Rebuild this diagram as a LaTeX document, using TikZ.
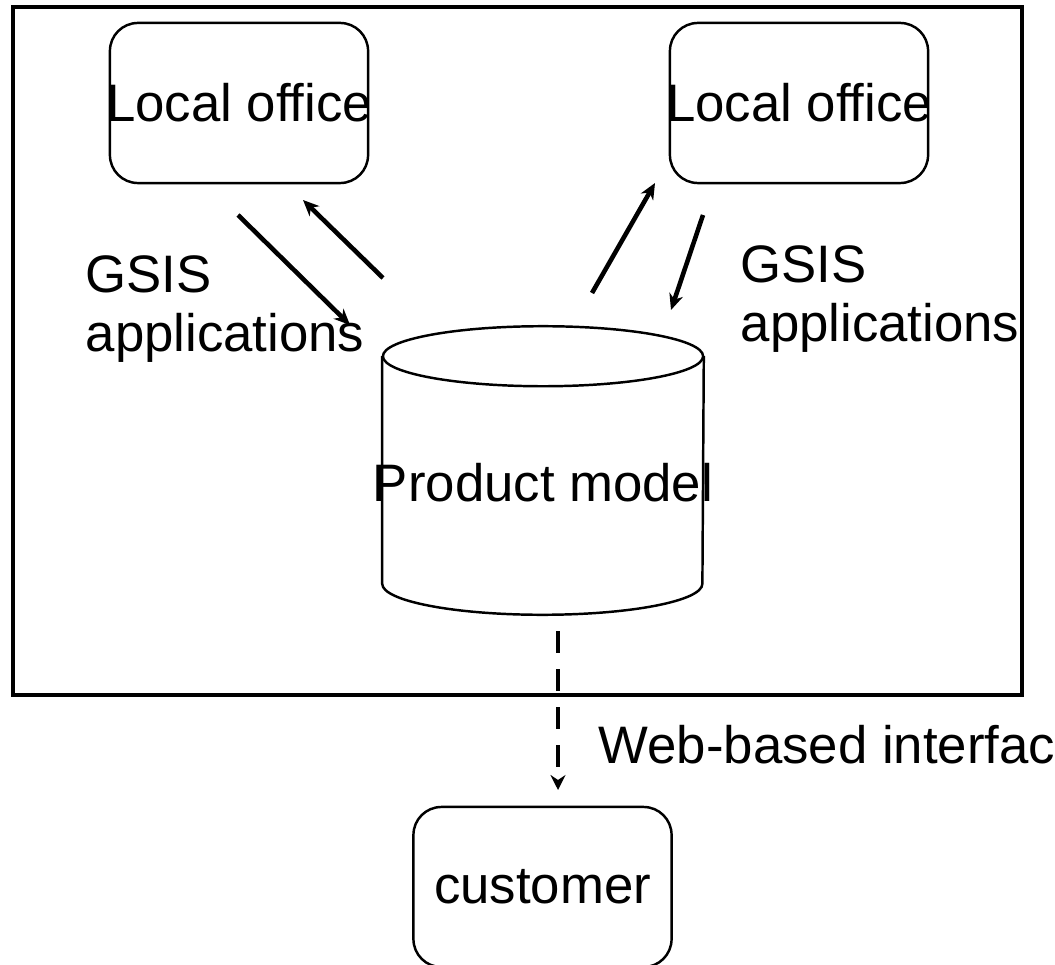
\documentclass[tikz,border=0pt]{standalone}
\usepackage{fontspec}
\setmainfont{Liberation Sans}
\usetikzlibrary{%
   arrows.meta,%
   positioning%
}

\begin{document}
\begin{tikzpicture}[x=0.01cm,y=-0.01cm,
	office/.style={
	rectangle,
	minimum width=2.58cm,
	minimum height=1.6cm,
	rounded corners=0.28cm,
	draw,line width=0.7pt,
	inner sep=0pt,
	font=\fontsize{15}{18}\selectfont
	},caption/.style={
	inner sep=0pt,align=left,
	font=\fontsize{15}{17}\selectfont
	},flow/.style={
	line width=1.3pt,
	-{Stealth[length=1.6mm,width=1.4mm,inset=0.5mm]}
	},web/.style={
	line width=1.2pt,dash pattern=on 0.22cm off 0.16cm,
	-{Stealth[length=1.5mm,width=1.5mm,inset=0.5mm]}
	}
]

\clip (0,0) rectangle (1055,964);

% the system frame
\node (system) [draw,line width=1.2pt,minimum width=10.09cm,minimum height=6.88cm,inner sep=0pt] at (517.5,351) {};

\node (office1) [office,label={[font=\fontsize{15}{18}\selectfont]center:Local office}] at (239,103) {};
\node (office2) [office,label={[font=\fontsize{15}{18}\selectfont]center:Local office}] at (799,103) {};
\node (customer) [office] at (542.5,887) {customer};

% database drum
\node (model) [minimum width=3.2cm,minimum height=2.26cm,inner sep=0pt,
	label={[font=\fontsize{15}{18}\selectfont,yshift=-0.13cm]center:Product model}] at (543,470) {};
\draw[line width=0.7pt] (model.north) ellipse [x radius=1.6cm,y radius=0.3cm];
\draw[line width=0.7pt] (model.north west) -- (model.south west)
	arc[start angle=180,end angle=360,x radius=1.6cm,y radius=0.31cm]
	-- (model.north east);

\node (gsis1) [caption,anchor=base west] at (85,352) {GSIS\\applications};
\node (gsis2) [caption,anchor=base west] at (740,342) {GSIS\\applications};
\node (webif) [caption,anchor=base west] at (598,763) {Web-based interfac};

\coordinate (out1) at (238,215);
\coordinate (in1) at (350,325);
\coordinate (out2) at (383,278);
\coordinate (in2) at (303,200);
\coordinate (out3) at (592,293);
\coordinate (in3) at (655,183);
\coordinate (out4) at (703,215);
\coordinate (in4) at (671,310);
\coordinate (webtop) at (558,631);
\coordinate (webend) at (558,790);

\path	(out1) edge[flow] (in1)
	(out2) edge[flow] (in2)
	(out3) edge[flow] (in3)
	(out4) edge[flow] (in4);
\path	(webtop) edge[web] (webend);

\end{tikzpicture}
\end{document}
